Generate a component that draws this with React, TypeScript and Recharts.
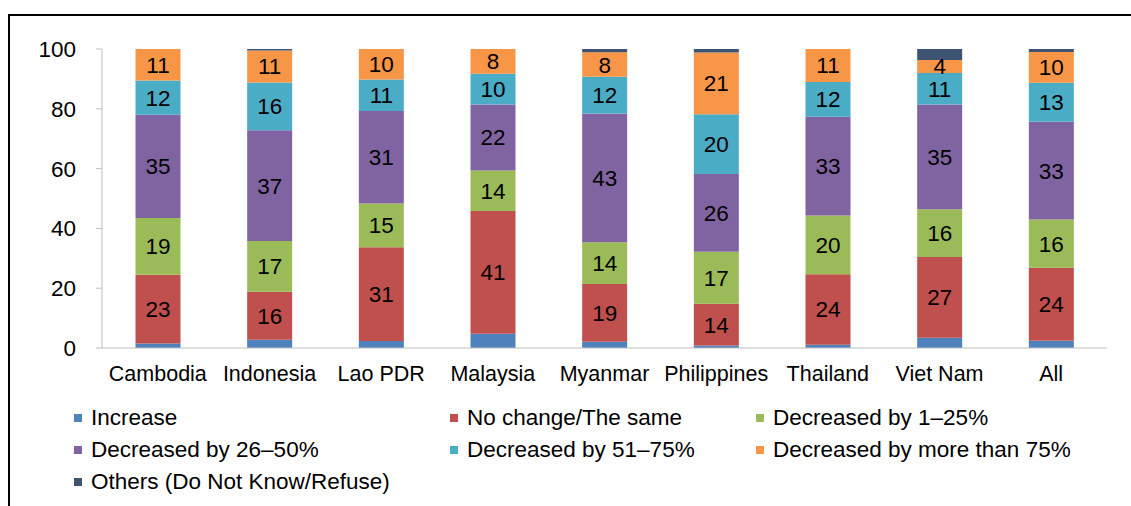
import React from 'react';
import { BarChart, Bar, XAxis, YAxis, LabelList } from 'recharts';

// Share of respondents by change in income (%), by country
const paises = ['Cambodia', 'Indonesia', 'Lao PDR', 'Malaysia', 'Myanmar', 'Philippines', 'Thailand', 'Viet Nam', 'All'];

const increase = [1.5, 2.8, 2.3, 4.8, 2.1, 0.8, 1.1, 3.4, 2.4];
const noChange = [23, 16, 31.4, 41, 19.3, 14, 23.6, 27, 24.4];
const dec1a25 = [19, 17, 14.6, 13.6, 14, 17.4, 19.6, 16, 16.2];
const dec26a50 = [34.5, 37, 31, 22, 43, 26, 33, 35, 32.7];
const dec51a75 = [11.5, 16, 10.5, 10.3, 12.3, 20, 11.7, 10.6, 13];
const decMas75 = [10.5, 10.7, 10.2, 8.3, 8.2, 20.6, 11, 4.3, 10.3];
const otros = [0, 0.5, 0, 0, 1.1, 1.2, 0, 3.7, 1];

const yTicks = [0, 20, 40, 60, 80, 100];

const series = [
  { key: 'increase', name: 'Increase', color: '#4F81BD', label: false },
  { key: 'noChange', name: 'No change/The same', color: '#C0504D', label: true },
  { key: 'dec1a25', name: 'Decreased by 1\u201325%', color: '#9BBB59', label: true },
  { key: 'dec26a50', name: 'Decreased by 26\u201350%', color: '#8064A2', label: true },
  { key: 'dec51a75', name: 'Decreased by 51\u201375%', color: '#4BACC6', label: true },
  { key: 'decMas75', name: 'Decreased by more than 75%', color: '#F79646', label: true },
  { key: 'otros', name: 'Others (Do Not Know/Refuse)', color: '#3F5373', label: false },
];

const datos = paises.map((p, i) => ({
  pais: p,
  increase: increase[i],
  noChange: noChange[i],
  dec1a25: dec1a25[i],
  dec26a50: dec26a50[i],
  dec51a75: dec51a75[i],
  decMas75: decMas75[i],
  otros: otros[i],
}));

const FONT = '"Liberation Sans", Arial, sans-serif';

// leyenda en 3 columnas, como la del original
const colX = [74, 450, 756];
const Leyenda = () => (
  <div style={{ position: 'absolute', left: 0, top: 404, width: 1131, height: 100, fontFamily: FONT }}>
    {series.map((s, i) => (
      <div
        key={s.key}
        style={{
          position: 'absolute',
          left: colX[i % 3],
          top: Math.floor(i / 3) * 32,
          display: 'flex',
          alignItems: 'center',
          fontSize: 22.5,
          color: '#000',
          whiteSpace: 'nowrap',
          lineHeight: '28px',
        }}
      >
        <span style={{ width: 8, height: 8, background: s.color, marginRight: 9, display: 'inline-block' }} />
        {s.name}
      </div>
    ))}
  </div>
);

export default function App() {
  return (
    <div style={{ position: 'relative', width: 1131, height: 506, overflow: 'hidden', background: '#fff' }}>
      <style>{`body{margin:0;overflow:hidden}`}</style>
      <div
        style={{
          position: 'absolute',
          left: 8,
          top: 14,
          width: 1200,
          height: 600,
          borderTop: '2px solid #000',
          borderLeft: '2px solid #000',
        }}
      />
      <div style={{ position: 'absolute', left: 0, top: 0 }}>
        <BarChart
          width={1131}
          height={506}
          data={datos}
          margin={{ top: 49, right: 24, left: 42, bottom: 118 }}
          barCategoryGap="30%"
        >
          <XAxis
            dataKey="pais"
            height={40}
            axisLine={{ stroke: '#BFBFBF' }}
            tickLine={false}
            tickSize={0}
            tickMargin={18}
            tick={{ fontSize: 21.5, fill: '#000', fontFamily: FONT }}
            interval={0}
          />
          <YAxis
            width={60}
            domain={[0, 100]}
            ticks={yTicks}
            axisLine={{ stroke: '#BFBFBF' }}
            tickLine={{ stroke: '#BFBFBF' }}
            tickSize={6}
            tickMargin={20}
            tick={{ fontSize: 22.5, fill: '#000', fontFamily: FONT }}
          />
          {series.map(s => (
            <Bar key={s.key} dataKey={s.key} name={s.name} stackId="a" fill={s.color} isAnimationActive={false}>
              {s.label && (
                <LabelList
                  dataKey={s.key}
                  position="center"
                  formatter={(v: any) => Math.round(Number(v))}
                  style={{ fontSize: 22.5, fill: '#000', fontFamily: FONT }}
                />
              )}
            </Bar>
          ))}
        </BarChart>
      </div>
      <Leyenda />
    </div>
  );
}
